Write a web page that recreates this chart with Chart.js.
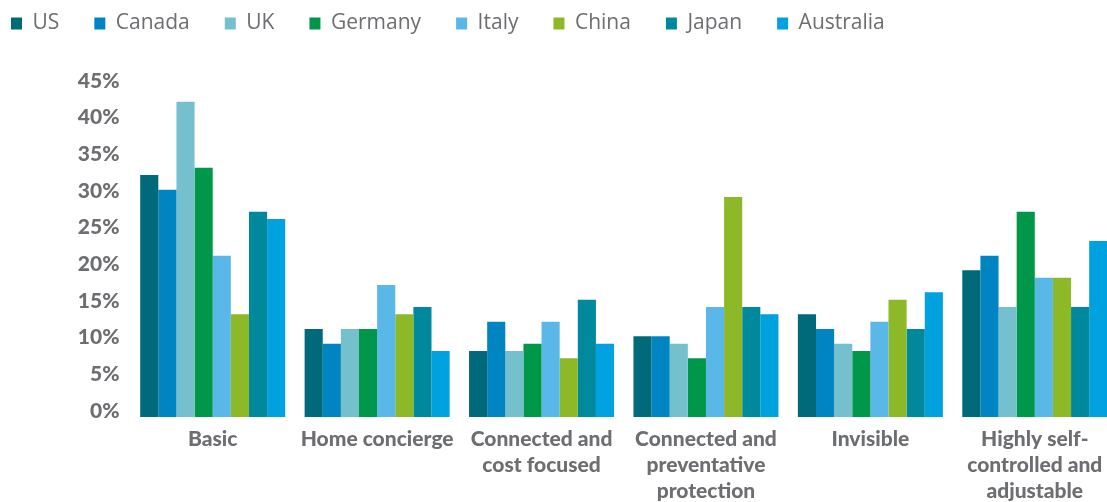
<!DOCTYPE html>
<html lang="en">
<head>
    <meta charset="UTF-8">
    <title>Smart home preferences by country</title>
    <script src="https://cdn.jsdelivr.net/npm/chart.js"></script>
    <style>
        html, body { margin: 0; padding: 0; background: #fff; overflow: hidden; }
        /* shifted so the legend padding lines up with the left edge */
        #wrap { position: absolute; left: -24px; top: -22px; width: 1141px; height: 524px; }
    </style>
</head>
<body>
    <div id="wrap"><canvas id="chart"></canvas></div>
    <script>
        // categories and values (percent)
        const categories = [
            ['Basic'],
            ['Home concierge'],
            ['Connected and', 'cost focused'],
            ['Connected and', 'preventative', 'protection'],
            ['Invisible'],
            ['Highly self-', 'controlled and', 'adjustable']
        ];
        const countries = ['US', 'Canada', 'UK', 'Germany', 'Italy', 'China', 'Japan', 'Australia'];
        const colors = ['#00697A', '#0085C2', '#74C0CD', '#00974A', '#59B8E8', '#8DB827', '#00899D', '#00A1DF'];

        const usValues        = [33, 12, 9, 11, 14, 20];
        const canadaValues    = [31, 10, 13, 11, 12, 22];
        const ukValues        = [43, 12, 9, 10, 10, 15];
        const germanyValues   = [34, 12, 10, 8, 9, 28];
        const italyValues     = [22, 18, 13, 15, 13, 19];
        const chinaValues     = [14, 14, 8, 30, 16, 19];
        const japanValues     = [28, 15, 16, 15, 12, 15];
        const australiaValues = [27, 9, 10, 14, 17, 24];

        const yTicks = [0, 5, 10, 15, 20, 25, 30, 35, 40, 45];

        const series = [usValues, canadaValues, ukValues, germanyValues, italyValues, chinaValues, japanValues, australiaValues];
        const gray = '#6D6E71';
        const axisFont = "Lato, 'Liberation Sans', sans-serif";

        // extra room under the legend
        const legendSpacer = {
            id: 'legendSpacer',
            beforeInit(chart) {
                const fit = chart.legend.fit;
                chart.legend.fit = function () {
                    fit.bind(chart.legend)();
                    this.height = 109;
                };
            }
        };

        new Chart(document.getElementById('chart'), {
            type: 'bar',
            data: {
                labels: categories,
                datasets: series.map((vals, i) => ({
                    label: countries[i],
                    data: vals,
                    backgroundColor: colors[i],
                    borderWidth: 0,
                    barPercentage: 1,
                    categoryPercentage: 0.882
                }))
            },
            options: {
                responsive: true,
                maintainAspectRatio: false,
                animation: false,
                layout: { padding: 0 },
                plugins: {
                    legend: {
                        position: 'top',
                        align: 'start',
                        labels: {
                            boxWidth: 11,
                            boxHeight: 12,
                            padding: 35,
                            color: gray,
                            font: { family: "'Open Sans', sans-serif", size: 21 }
                        }
                    },
                    tooltip: { enabled: false }
                },
                scales: {
                    x: {
                        grid: { display: false, drawTicks: false },
                        border: { display: false },
                        ticks: {
                            color: gray,
                            padding: 9,
                            maxRotation: 0,
                            autoSkip: false,
                            font: { family: axisFont, size: 21, weight: '900', lineHeight: 1.24 }
                        },
                        afterFit(scale) { scale.height = 85; }
                    },
                    y: {
                        min: 0,
                        max: 45,
                        grid: { display: false, drawTicks: false },
                        border: { display: false },
                        afterBuildTicks(scale) { scale.ticks = yTicks.map(v => ({ value: v })); },
                        ticks: {
                            color: gray,
                            padding: 11,
                            labelOffset: -6,
                            font: { family: axisFont, size: 21, weight: '900' },
                            callback: v => v + '%'
                        },
                        afterFit(scale) { scale.width = 154.5; }
                    }
                }
            },
            plugins: [legendSpacer]
        });
    </script>
</body>
</html>
